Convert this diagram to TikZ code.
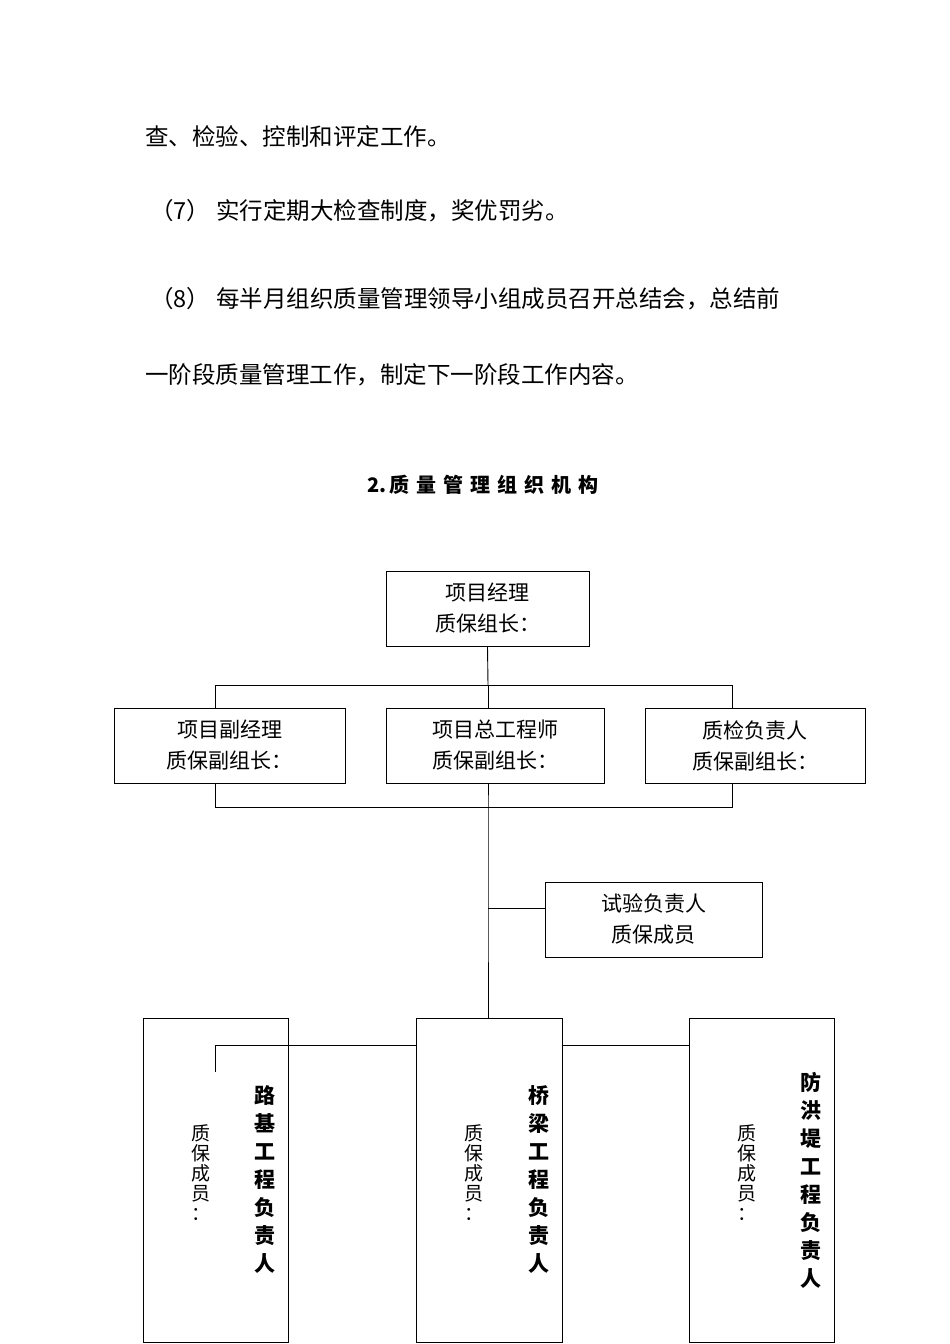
\documentclass[tikz,border=0pt]{standalone}
\usepackage{fontspec}
\setmainfont{Noto Sans CJK SC}
\begin{document}
\begin{tikzpicture}[x=1pt,y=-1pt,
  ln/.style={line width=0.9pt},
  txt/.style={font=\fontsize{23.5}{26}\selectfont,anchor=west,inner sep=0pt},
  bt/.style={font=\fontsize{21}{31}\selectfont,align=center}]
\useasboundingbox (0,0) rectangle (950,1344);
\node[txt] (p1) at (145,137) {查、检验、控制和评定工作。};
\node[txt] (p2) at (150,211) {（7）\hspace{6pt}实行定期大检查制度，奖优罚劣。};
\node[txt] (p3) at (150,299) {（8）\hspace{6pt}每半月组织质量管理领导小组成员召开总结会，总结前};
\node[txt] (p4) at (145,375) {一阶段质量管理工作，制定下一阶段工作内容。};
\node[font=\fontsize{20}{24}\selectfont\bfseries] (title) at (483,485) {2.\,质\hspace{7pt}量\hspace{7pt}管\hspace{7pt}理\hspace{7pt}组\hspace{7pt}织\hspace{7pt}机\hspace{7pt}构};
% boxes
\node[draw,line width=0.9pt,minimum width=203,minimum height=75,bt] (top) at (487.5,608.5) {项目经理\\质保组长：};
\node[draw,line width=0.9pt,minimum width=231,minimum height=75,bt] (b1) at (229.5,745.5) {项目副经理\\质保副组长：};
\node[draw,line width=0.9pt,minimum width=218,minimum height=75,bt] (b2) at (495,745.5) {项目总工程师\\质保副组长：};
\node[draw,line width=0.9pt,minimum width=220,minimum height=75,bt] (b3) at (755,745.5) {质检负责人\\质保副组长：};
\node[draw,line width=0.9pt,minimum width=217,minimum height=75,bt] (t) at (653.5,919.5) {试验负责人\\质保成员};
\node[draw,line width=0.9pt,minimum width=145,minimum height=324] (c1) at (215.5,1180) {};
\node[draw,line width=0.9pt,minimum width=146,minimum height=324] (c2) at (489,1180) {};
\node[draw,line width=0.9pt,minimum width=145,minimum height=324] (c3) at (761.5,1180) {};
% column texts
\tikzset{vb/.style={font=\fontsize{21}{28}\selectfont\bfseries,align=center,anchor=north,inner sep=0pt},
 vs/.style={font=\fontsize{19}{20}\selectfont,align=center,anchor=north,inner sep=0pt}}
\node[vb] (c1a) at (265,1085) {路\\基\\工\\程\\负\\责\\人};
\node[vb] (c2a) at (539,1085) {桥\\梁\\工\\程\\负\\责\\人};
\node[vb] (c3a) at (811,1072) {防\\洪\\堤\\工\\程\\负\\责\\人};
\node[vs] (c1b) at (201,1124) {质\\保\\成\\员\\：};
\node[vs] (c2b) at (474,1124) {质\\保\\成\\员\\：};
\node[vs] (c3b) at (747,1124) {质\\保\\成\\员\\：};
% connectors
\coordinate (j1) at (488,685);
\coordinate (j2) at (488,807);
\coordinate (j3) at (488,908);
\coordinate (j4) at (488,1018);
\draw[ln] (top.south) -- (j1);
\draw[ln] (215,708) -- (215,685) -- (732,685) -- (732,708);
\draw[ln] (j1) -- (488,708);
\draw[ln] (215,783) -- (215,807) -- (732,807) -- (732,783);
\draw[ln] (488,783) -- (j2) -- (j3) -- (j4);
\draw[ln] (j3) -- (t.west |- j3);
\draw[ln] (215,1072) -- (215,1045) -- (c2.west |- 0,1045);
\draw[ln] (c2.east |- 0,1045) -- (c3.west |- 0,1045);
\end{tikzpicture}
\end{document}
